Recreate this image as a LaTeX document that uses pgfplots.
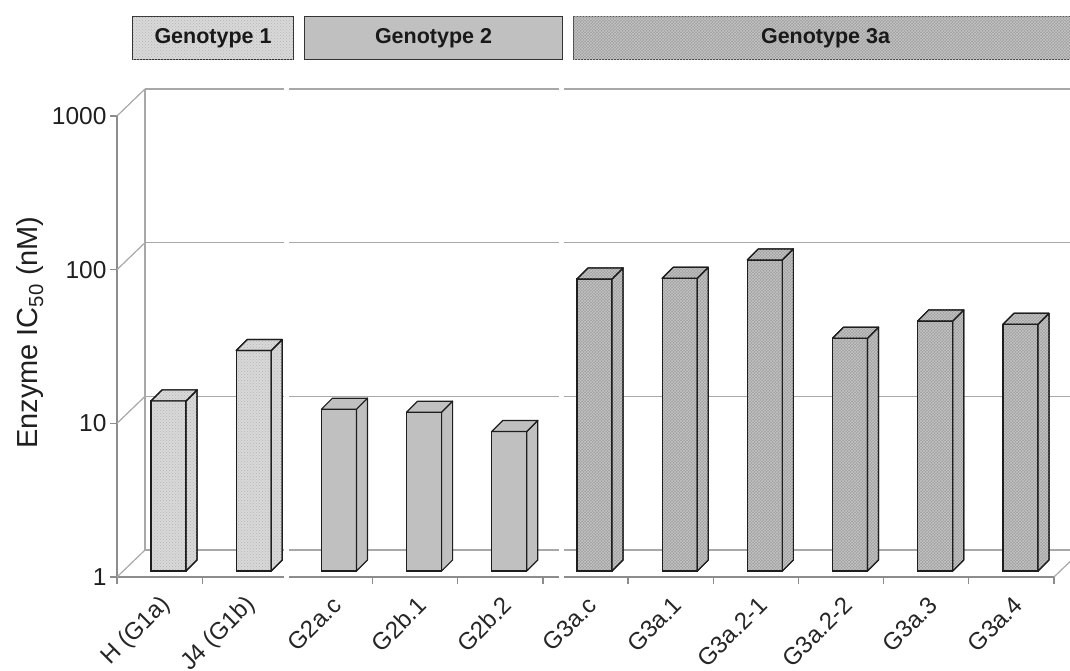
\documentclass[border=0pt]{standalone}
\usepackage{fontspec}
\setmainfont{Liberation Sans}
\usepackage{pgfplots}
\usepackage{pgfplotstable}
\pgfplotsset{compat=1.18}
\usetikzlibrary{patterns}

\definecolor{gone}{HTML}{D9D9D9}
\definecolor{gonedot}{HTML}{B4B4B4}
\definecolor{gtwo}{HTML}{C0C0C0}
\definecolor{gthree}{HTML}{A0A0A0}
\definecolor{gthreepat}{HTML}{C4C4C4}
\definecolor{gridc}{HTML}{A8A8A8}
\definecolor{axc}{HTML}{8C8C8C}
\definecolor{edge}{HTML}{1E1E1E}

\tikzset{
  fone/.style={fill=gone, postaction={pattern=crosshatch dots, pattern color=gonedot}},
  ftwo/.style={fill=gtwo},
  fthree/.style={fill=gthree, postaction={pattern=crosshatch, pattern color=gthreepat}},
}

\pgfplotstableread{
x y
1 12.8
2 27.2
}\tabone
\pgfplotstableread{
x y
3 11.3
4 10.8
5 8.1
}\tabtwo
\pgfplotstableread{
x y
6 79.5
7 80.3
8 105.7
9 32.7
10 42.4
11 40.3
}\tabthree

\pgfplotsset{
  box3d/.style={
    only marks, scatter, mark=*, mark size=0pt,
    mark options={draw=none, fill=none},
    visualization depends on={rawy \as \rawy},
    scatter/@pre marker code/.code={%
      \pgfmathsetmacro\barh{ln(\rawy)/ln(10)*153.6667}%
      \pgfmathsetmacro\sideb{11-\barh}%
      \pgfmathsetmacro\negh{-\barh}%
      \path[#1, draw=edge, line width=1.2pt, line join=round]
        (17.5pt,0pt) -- (28.5pt,11pt) -- (28.5pt,\sideb pt) -- (17.5pt,\negh pt) -- cycle;
      \path[#1, draw=edge, line width=1.2pt, line join=round]
        (-17.5pt,0pt) -- (17.5pt,0pt) -- (28.5pt,11pt) -- (-6.5pt,11pt) -- cycle;
    },
    scatter/@post marker code/.code={},
  },
  frontbar/.style={ybar, bar width=35pt, bar shift=0pt, draw=edge, line width=1.2pt, #1},
}

\begin{document}
\begin{tikzpicture}
\useasboundingbox (0pt,0pt) rectangle (1070pt,670pt);

% back wall
\begin{axis}[
  at={(145pt,120pt)}, anchor=south west, scale only axis,
  width=937pt, height=461pt,
  xmin=0.5, xmax=11.5, ymode=log, ymin=1, ymax=1000,
  axis x line*=bottom, axis y line*=left,
  axis line style={draw=gridc, line width=1.2pt, -},
  xtick=\empty, ytick={1,10,100,1000}, yticklabels={},
  yminorticks=false, minor y tick num=0,
  major tick length=0pt,
  ymajorgrids, grid style={draw=gridc, line width=1.2pt},
]
\end{axis}

% front axis
\begin{axis}[
  at={(117pt,93pt)}, anchor=south west, scale only axis,
  width=937pt, height=461pt,
  xmin=0.5, xmax=11.5, ymode=log, ymin=1, ymax=1000,
  axis x line*=bottom, axis y line*=left,
  axis line style={draw=axc, line width=1.2pt, -},
  xtick={0.5,1.5,...,11.5}, xticklabels={},
  ytick={1,10,100,1000}, yticklabels={1,10,100,1000},
  yminorticks=false,
  tick style={draw=axc, line width=1.2pt},
  tick align=outside, major tick length=7pt,
  yticklabel style={font=\fontsize{24.5}{24.5}\selectfont, text=black!88},
  ylabel={Enzyme IC\textsubscript{50} (nM)},
  every axis y label/.style={at={(axis description cs:-0.0928,0.53)}, rotate=90, anchor=center,
     font=\fontsize{29}{29}\selectfont, text=black!88},
  clip=false,
]
\draw[gridc, line width=1.2pt] (axis cs:0.5,1) -- ++(28pt,27pt);
\draw[gridc, line width=1.2pt] (axis cs:0.5,10) -- ++(28pt,27pt);
\draw[gridc, line width=1.2pt] (axis cs:0.5,100) -- ++(28pt,27pt);
\draw[gridc, line width=1.2pt] (axis cs:0.5,1000) -- ++(28pt,27pt);
\draw[gridc, line width=1.2pt] (axis cs:11.5,1) -- ++(28pt,27pt);
\end{axis}

% group separators
\fill[white] (284pt,78pt) rectangle (289pt,598pt);
\fill[white] (559pt,78pt) rectangle (564pt,598pt);

% bars
\begin{axis}[
  at={(126pt,99pt)}, anchor=south west, scale only axis,
  width=937pt, height=461pt,
  xmin=0.5, xmax=11.5, ymode=log, ymin=1, ymax=1000,
  axis line style={draw=none},
  ytick=\empty, yminorticks=false,
  xtick={1,...,11},
  xticklabels={H (G1a), J4 (G1b), G2a.c, G2b.1, G2b.2, G3a.c, G3a.1, G3a.2-1, G3a.2-2, G3a.3, G3a.4},
  major tick length=0pt,
  xticklabel style={rotate=45, anchor=east, xshift=-22.6pt, yshift=-19.8pt,
     font=\fontsize{24}{24}\selectfont, text=black!85, inner sep=0pt},
  clip=false,
]
\addplot[frontbar=fone] table[x=x,y=y]{\tabone};
\addplot[frontbar=ftwo] table[x=x,y=y]{\tabtwo};
\addplot[frontbar=fthree] table[x=x,y=y]{\tabthree};
\addplot[box3d=fone] table[x=x,y=y]{\tabone};
\addplot[box3d=ftwo] table[x=x,y=y]{\tabtwo};
\addplot[box3d=fthree] table[x=x,y=y]{\tabthree};
\end{axis}

% genotype header boxes
\tikzset{hdr/.style={draw=black!80, line width=1.1pt, anchor=south west, minimum height=43pt,
   inner sep=0pt, font=\bfseries\fontsize{21.5}{21.5}\selectfont, text=black!90}}
\node[hdr, fone, minimum width=161pt] at (132pt,610pt) {Genotype 1};
\node[hdr, ftwo, minimum width=258pt] at (304pt,610pt) {Genotype 2};
\node[hdr, fthree, minimum width=504pt] at (573pt,610pt) {Genotype 3a};
\end{tikzpicture}
\end{document}
